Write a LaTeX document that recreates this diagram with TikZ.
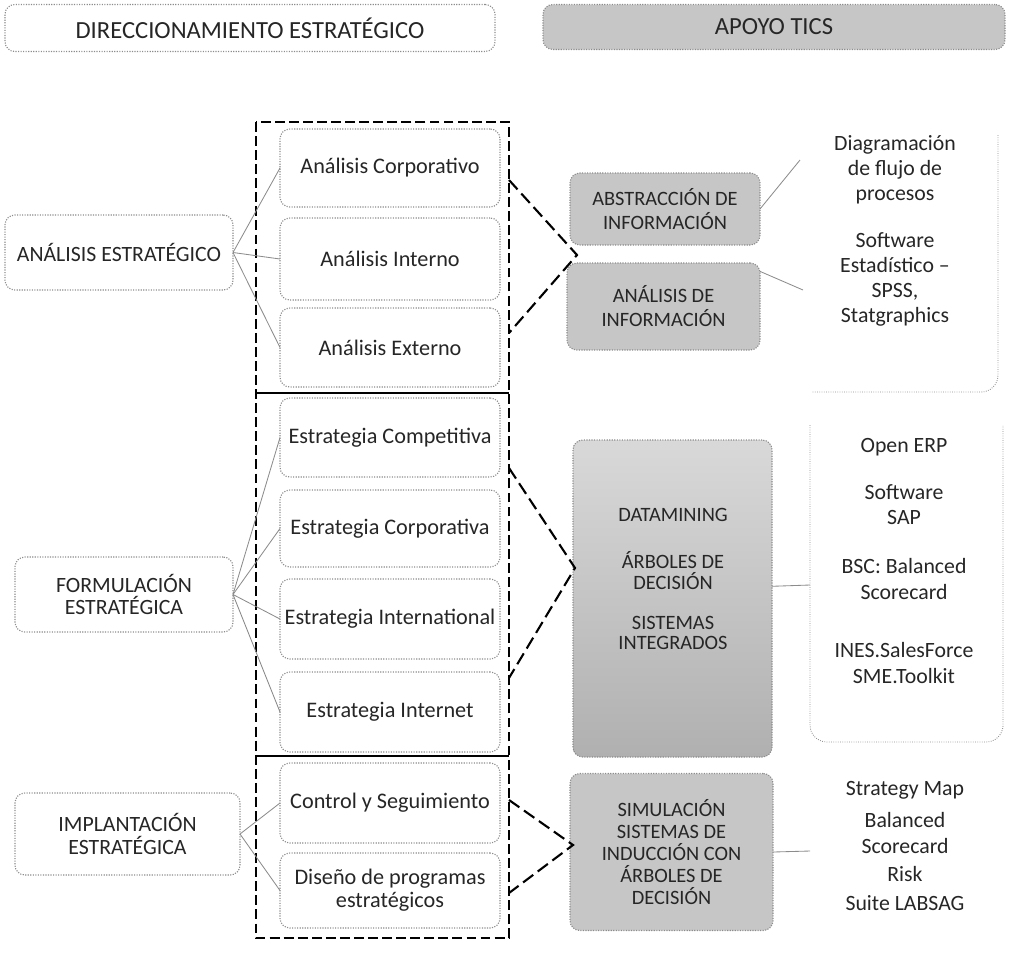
\documentclass[tikz,border=0pt]{standalone}
\usepackage{fontspec}
\setmainfont{Carlito}
\newcommand{\px}{0.025cm}

\begin{document}
\begin{tikzpicture}[x=\px,y=-\px,
  every node/.style={inner sep=0pt,outer sep=0pt,text=black!85},
  sz/.style 2 args={minimum width=#1*\px,minimum height=#2*\px},
  cbox/.style={draw=black!45,densely dotted,line width=0.8pt,rounded corners=7pt,fill=white,align=center,font=\fontsize{15.8}{16.5}\selectfont},
  gbox/.style={cbox,fill=gray!45,font=\fontsize{14.5}{15.5}\selectfont},
  catbox/.style={cbox,font=\fontsize{15.5}{16}\selectfont},
  ticlist/.style={align=center,font=\fontsize{15.5}{17.8}\selectfont},
  grpframe/.style={line width=1.6pt,dash pattern=on 7pt off 3pt},
  vline/.style={line width=1.5pt,dash pattern=on 9pt off 4pt},
  link/.style={draw=black!45,line width=0.6pt}]
\useasboundingbox (0,0) rectangle (1010,955);

% headers
\node[cbox,sz={490}{47},font=\fontsize{17.5}{19}\selectfont] (hdir) at (250,28) {DIRECCIONAMIENTO ESTRATÉGICO};
\node[gbox,sz={462}{45},font=\fontsize{17.5}{19}\selectfont] (htic) at (774,27) {APOYO TICS};

% dashed frame
\draw[grpframe] (256,122) rectangle (509,938);
\draw[line width=1.6pt] (256,393) -- (509,393);
\draw[line width=1.6pt] (256,756) -- (509,756);

\node[cbox,sz={220}{78}] (ac) at (390,168) {Análisis Corporativo};
\node[cbox,sz={220}{82}] (ai) at (390,259) {Análisis Interno};
\node[cbox,sz={220}{79}] (ax) at (390,347.5) {Análisis Externo};
\node[cbox,sz={220}{79}] (ec1) at (390,437.5) {Estrategia Competitiva};
\node[cbox,sz={220}{77}] (ec2) at (390,528.5) {Estrategia Corporativa};
\node[cbox,sz={220}{80}] (ei) at (390,619) {Estrategia International};
\node[cbox,sz={220}{80}] (en) at (390,712) {Estrategia Internet};
\node[cbox,sz={220}{80}] (cs) at (390,803) {Control y Seguimiento};
\node[cbox,sz={220}{75}] (dp) at (390,890.5) {Diseño de programas\\estratégicos};

\node[catbox,sz={228}{75}] (aest) at (119,252.5) {ANÁLISIS ESTRATÉGICO};
\node[catbox,sz={218}{75}] (fest) at (124,594.5) {FORMULACIÓN\\ESTRATÉGICA};
\node[catbox,sz={225}{82}] (iest) at (127.5,834) {IMPLANTACIÓN\\ESTRATÉGICA};

\foreach \b in {ac,ai,ax} \draw[link] (aest.east) -- (\b.west);
\foreach \b in {ec1,ec2,ei,en} \draw[link] (fest.east) -- (\b.west);
\foreach \b in {cs,dp} \draw[link] (iest.east) -- (\b.west);

% apoyo tics
\node[gbox,sz={190}{72},font=\fontsize{14.5}{17}\selectfont] (abs) at (665,209) {ABSTRACCIÓN DE\\INFORMACIÓN};
\node[gbox,sz={193}{87},font=\fontsize{14.5}{17}\selectfont] (ana) at (663.5,306.5) {ANÁLISIS DE\\INFORMACIÓN};
\node[gbox,sz={199}{317},top color=gray!30,bottom color=gray!62] (dat) at (672.5,598.5) {};
\node[align=center,font=\fontsize{14.5}{14.5}\selectfont] (dattxt) at (673,579) {DATAMINING\\[19pt]ÁRBOLES DE\\DECISIÓN\\[14pt]SISTEMAS\\INTEGRADOS};
\node[gbox,sz={203}{157}] (sim) at (671.5,852) {SIMULACIÓN\\SISTEMAS DE\\INDUCCIÓN CON\\ÁRBOLES DE\\DECISIÓN};

\coordinate (v1) at (577,255); \coordinate (v1a) at (509,180); \coordinate (v1b) at (509,333);
\coordinate (v2) at (575,568); \coordinate (v2a) at (509,468); \coordinate (v2b) at (509,678);
\coordinate (v3) at (573,845); \coordinate (v3a) at (509,800); \coordinate (v3b) at (509,893);
\draw[vline] (v1a) -- (v1) -- (v1b);
\draw[vline] (v2a) -- (v2) -- (v2b);
\draw[vline] (v3a) -- (v3) -- (v3b);

% tools
\draw[link,densely dotted,rounded corners=12pt] (998,135) -- (998,392) -- (812,392);
\draw[link,densely dotted,rounded corners=12pt] (810,425) -- (810,742) -- (1003,742) -- (1003,425);

\node[ticlist] (t1) at (895,170) {Diagramación\\de flujo de\\procesos};
\node[ticlist] (t2) at (895,279) {Software\\Estadístico –\\SPSS,\\Statgraphics};
\node[ticlist] (t3) at (904,447) {Open ERP};
\node[ticlist] (t4) at (904,505) {Software\\SAP};
\node[ticlist] (t5) at (904,579) {BSC: Balanced\\Scorecard};
\node[ticlist] (t6) at (904,663) {INES.SalesForce\\SME.Toolkit};
\node[ticlist] (t7) at (905,790) {Strategy Map};
\node[ticlist] (t8) at (905,833) {Balanced\\Scorecard};
\node[ticlist] (t9) at (905,874) {Risk};
\node[ticlist] (t10) at (905,903) {Suite LABSAG};

\coordinate (r1) at (800,160);
\coordinate (r2) at (803,290);
\coordinate (r3) at (810,585);
\coordinate (r4) at (810,851);
\draw[link] (abs.east) -- (r1);
\draw[link] (ana.20) -- (r2);
\draw[link] (dat.7.5) -- (r3);
\draw[link] (sim.east) -- (r4);
\end{tikzpicture}
\end{document}
